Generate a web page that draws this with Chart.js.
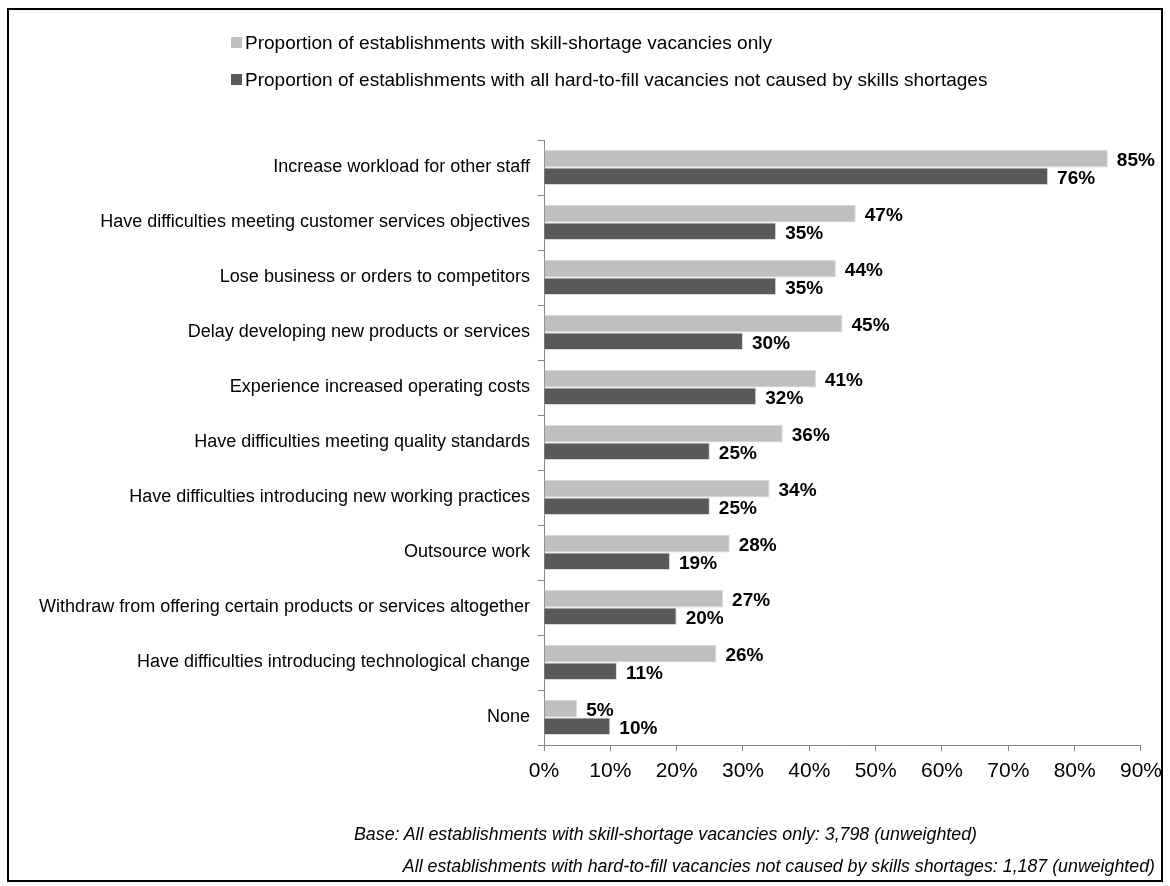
<!DOCTYPE html>
<html>
<head>
<meta charset="utf-8">
<script src="https://cdn.jsdelivr.net/npm/chart.js@4"></script>
<style>
  body { margin: 0; background: #fff; }
  #wrap { position: relative; width: 1170px; height: 886px; }
  #frame { position: absolute; left: 7px; top: 8px; width: 1156px; height: 874px; border: 2px solid #000; box-sizing: border-box; }
  canvas { position: absolute; left: 0; top: 0; }
  .note { position: absolute; font: italic 17.8px "Liberation Sans", Arial, sans-serif; color: #000; white-space: nowrap; line-height: 20px; }
</style>
</head>
<body>
<div id="wrap">
  <div id="frame"></div>
  <canvas id="myChart" width="1170" height="886"></canvas>
  <div class="note" style="left:354px; top:824px;">Base: All establishments with skill-shortage vacancies only: 3,798 (unweighted)</div>
  <div class="note" style="right:15px; top:856px;">All establishments with hard-to-fill vacancies not caused by skills shortages: 1,187 (unweighted)</div>
</div>
<script>
var categories = [
    "Increase workload for other staff",
    "Have difficulties meeting customer services objectives",
    "Lose business or orders to competitors",
    "Delay developing new products or services",
    "Experience increased operating costs",
    "Have difficulties meeting quality standards",
    "Have difficulties introducing new working practices",
    "Outsource work",
    "Withdraw from offering certain products or services altogether",
    "Have difficulties introducing technological change",
    "None"
];
var skillShortageOnly = [85, 47, 44, 45, 41, 36, 34, 28, 27, 26, 5];
var notSkillsShortage = [76, 35, 35, 30, 32, 25, 25, 19, 20, 11, 10];
var xTicks = [0, 10, 20, 30, 40, 50, 60, 70, 80, 90];

var fontName = '"Liberation Sans", Arial, sans-serif';

// value labels at the end of each bar
var barLabels = {
    id: 'barLabels',
    afterDatasetsDraw: function(chart) {
        var c = chart.ctx;
        c.save();
        c.font = 'bold 19px ' + fontName;
        c.fillStyle = '#000';
        c.textBaseline = 'middle';
        c.textAlign = 'left';
        chart.data.datasets.forEach(function(ds, i) {
            chart.getDatasetMeta(i).data.forEach(function(bar, j) {
                c.fillText(ds.data[j] + '%', bar.x + 9, bar.y + 2);
            });
        });
        c.restore();
    }
};

// legend drawn as two stacked rows like the original
var topLegend = {
    id: 'topLegend',
    afterDraw: function(chart) {
        var c = chart.ctx;
        c.save();
        c.font = '19px ' + fontName;
        c.textBaseline = 'middle';
        chart.data.datasets.forEach(function(ds, i) {
            var y = 42.5 + i * 37;
            c.fillStyle = ds.backgroundColor;
            c.fillRect(231, y - 5.5, 11, 11);
            c.fillStyle = '#000';
            c.fillText(ds.label, 245, y + 1);
        });
        c.restore();
    }
};

var ctx = document.getElementById('myChart').getContext('2d');
var myChart = new Chart(ctx, {
    type: 'bar',
    data: {
        labels: categories,
        datasets: [{
                label: "Proportion of establishments with skill-shortage vacancies only",
                data: skillShortageOnly,
                backgroundColor: '#BFBFBF',
                borderColor: '#D9D9D9',
                borderWidth: 1,
                barPercentage: 1,
                categoryPercentage: 0.64
            },
            {
                label: "Proportion of establishments with all hard-to-fill vacancies not caused by skills shortages",
                data: notSkillsShortage,
                backgroundColor: '#595959',
                borderColor: '#D9D9D9',
                borderWidth: 1,
                barPercentage: 1,
                categoryPercentage: 0.64
            }
        ]
    },
    options: {
        indexAxis: 'y',
        responsive: false,
        animation: false,
        layout: { padding: { top: 140, right: 25, bottom: 0, left: 0 } },
        plugins: {
            legend: { display: false },
            tooltip: { enabled: false }
        },
        scales: {
            x: {
                min: 0,
                max: 90,
                afterFit: function(scale) { scale.height = 141; },
                afterBuildTicks: function(scale) {
                    scale.ticks = xTicks.map(function(v) { return { value: v }; });
                },
                ticks: {
                    font: { family: fontName, size: 21 },
                    color: '#000',
                    padding: 8,
                    maxRotation: 0,
                    callback: function(v) { return v + '%'; }
                },
                grid: { drawOnChartArea: false, tickLength: 6, color: '#868686' },
                border: { color: '#868686' }
            },
            y: {
                afterFit: function(scale) { scale.width = 544; },
                ticks: {
                    font: { family: fontName, size: 18 },
                    color: '#000',
                    padding: 8
                },
                grid: { drawOnChartArea: false, tickLength: 6, color: '#868686', offset: true },
                border: { color: '#868686' }
            }
        }
    },
    plugins: [barLabels, topLegend]
});
</script>
</body>
</html>
